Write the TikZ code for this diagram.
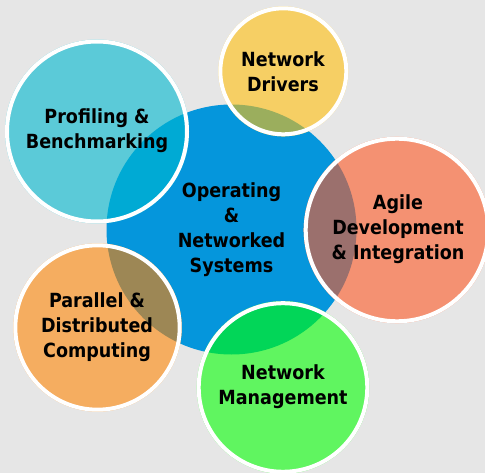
\documentclass[tikz,border=0pt]{standalone}
\usepackage{fontspec}
\setmainfont{DejaVu Sans}
\newfontfamily\lblfont{DejaVu Sans Condensed}[BoldFont={DejaVu Sans Condensed Bold}]
\definecolor{bgc}{HTML}{E6E6E6}
\definecolor{bluec}{HTML}{0596DC}
\definecolor{cyanc}{HTML}{5BCAD8}
\definecolor{cyanov}{HTML}{00AAD4}
\definecolor{yelc}{HTML}{F6CF64}
\definecolor{yelov}{HTML}{9BAE5D}
\definecolor{salc}{HTML}{F49172}
\definecolor{salov}{HTML}{9B706D}
\definecolor{orac}{HTML}{F5AD60}
\definecolor{oraov}{HTML}{9D8755}
\definecolor{grec}{HTML}{60F560}
\definecolor{greov}{HTML}{02D658}
\begin{document}
\begin{tikzpicture}[x=1pt,y=-1pt,
  lbl/.style={font=\lblfont\bfseries\fontsize{19.5}{25}\selectfont, align=center, text=black, inner sep=0pt},
  ring/.style={draw=white, line width=4pt}]
\useasboundingbox (0,0) rectangle (485,473);
\fill[bgc] (0,0) rectangle (485,473);
\clip (0,0) rectangle (485,473);
\coordinate (cB) at (231.5,229.5);
\coordinate (cP) at (97,131.5);
\coordinate (cD) at (283.3,71.3);
\coordinate (cA) at (397,230);
\coordinate (cR) at (97.5,327.5);
\coordinate (cM) at (283,387.5);
% central circle
\fill[bluec] (cB) circle (125pt);
% outer circles
\foreach \c/\r/\f/\o in {cP/92/cyanc/cyanov, cD/65/yelc/yelov, cA/93.3/salc/salov, cR/84.2/orac/oraov, cM/86.3/grec/greov}{
  \pgfmathsetmacro\rr{\r-2}
  \fill[\f] (\c) circle (\r pt);
  \begin{scope}
    \clip (cB) circle (125pt);
    \fill[\o] (\c) circle (\r pt);
  \end{scope}
  \draw[ring] (\c) circle (\rr pt);
}
% labels
\node[lbl] (tB) at (231.5,229.5) {Operating\\\&\\Networked\\Systems};
\node[lbl] (tP) at (97,131) {Profiling \&\\Benchmarking};
\node[lbl] (tD) at (283,72) {Network\\Drivers};
\node[lbl] (tA) at (398,229) {Agile\\Development\\\& Integration};
\node[lbl] (tR) at (97,327) {Parallel \&\\Distributed\\Computing};
\node[lbl] (tM) at (283,387) {Network\\Management};
\end{tikzpicture}
\end{document}
